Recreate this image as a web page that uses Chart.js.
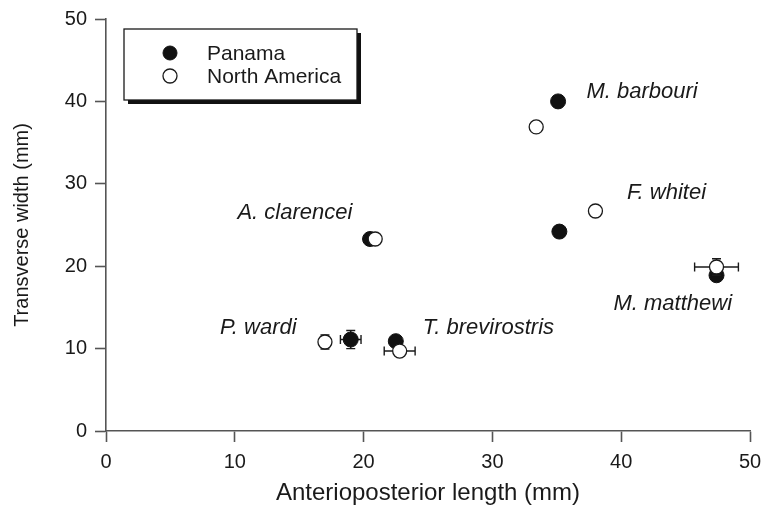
<!DOCTYPE html>
<html>
<head>
<meta charset="utf-8">
<script src="https://cdn.jsdelivr.net/npm/chart.js@4"></script>
<style>
  body { margin: 0; background: #fff; }
  #wrap { width: 764px; height: 506px; }
</style>
</head>
<body>
<div id="wrap"><canvas id="scatter" width="764" height="506"></canvas></div>
<script>
// species order is shared by every array below
const species = ["A. clarencei", "M. barbouri", "F. whitei", "M. matthewi", "P. wardi", "T. brevirostris"];

const panamaLength = [20.5, 35.1, 35.2, 47.4, 19.0, 22.5];
const panamaWidth = [23.3, 40.0, 24.2, 18.9, 11.1, 10.9];
const panamaLengthErr = [0, 0, 0, 0, 0.8, 0];
const panamaWidthErr = [0, 0, 0, 0, 1.1, 0];

const northLength = [20.9, 33.4, 38.0, 47.4, 17.0, 22.8];
const northWidth = [23.3, 36.9, 26.7, 19.9, 10.8, 9.7];
const northLengthErr = [0, 0, 0, 1.7, 0, 1.2];
const northWidthErr = [0, 0, 0, 1.0, 0.85, 0.3];

const axisTicks = [0, 10, 20, 30, 40, 50];

// where each species name sits (left edge, vertical middle), in axis units
const nameSpots = [
    [10.2, 26.5],
    [37.3, 41.1],
    [40.45, 28.9],
    [39.4, 15.4],
    [8.85, 12.5],
    [24.6, 12.5],
];

const FONT = "'Liberation Sans', Arial, Helvetica, sans-serif";
const INK = "#1a1a1a";

function points(xs, ys, xe, ye) {
    return xs.map((x, i) => ({ x: x, y: ys[i], xErr: xe[i], yErr: ye[i] }));
}

// error bars go under the markers of their own dataset
const errorBars = {
    id: "errorBars",
    beforeDatasetDraw(chart, args) {
        const { ctx, scales } = chart;
        const xs = scales.x, ys = scales.y;
        const cap = 4.5;
        ctx.save();
        ctx.strokeStyle = INK;
        ctx.lineWidth = 1.4;
        args.meta._dataset.data.forEach((p) => {
            const cx = xs.getPixelForValue(p.x);
            const cy = ys.getPixelForValue(p.y);
            ctx.beginPath();
            if (p.xErr) {
                const l = xs.getPixelForValue(p.x - p.xErr);
                const r = xs.getPixelForValue(p.x + p.xErr);
                ctx.moveTo(l, cy); ctx.lineTo(r, cy);
                ctx.moveTo(l, cy - cap); ctx.lineTo(l, cy + cap);
                ctx.moveTo(r, cy - cap); ctx.lineTo(r, cy + cap);
            }
            if (p.yErr) {
                const t = ys.getPixelForValue(p.y + p.yErr);
                const b = ys.getPixelForValue(p.y - p.yErr);
                ctx.moveTo(cx, t); ctx.lineTo(cx, b);
                ctx.moveTo(cx - cap, t); ctx.lineTo(cx + cap, t);
                ctx.moveTo(cx - cap, b); ctx.lineTo(cx + cap, b);
            }
            ctx.stroke();
        });
        ctx.restore();
    },
};

const speciesNames = {
    id: "speciesNames",
    afterDatasetsDraw(chart) {
        const { ctx, scales } = chart;
        ctx.save();
        ctx.font = "italic 22px " + FONT;
        ctx.fillStyle = INK;
        ctx.textAlign = "left";
        ctx.textBaseline = "middle";
        species.forEach((name, i) => {
            const [x, y] = nameSpots[i];
            ctx.fillText(name, scales.x.getPixelForValue(x), scales.y.getPixelForValue(y));
        });
        ctx.restore();
    },
};

// boxed legend with a drop shadow, inside the plot
const boxLegend = {
    id: "boxLegend",
    afterDraw(chart) {
        const { ctx } = chart;
        const box = { x: 124, y: 29, w: 233, h: 71 };
        ctx.save();
        ctx.fillStyle = "#111";
        ctx.fillRect(box.x + 4, box.y + 4, box.w, box.h);
        ctx.fillStyle = "#fff";
        ctx.fillRect(box.x, box.y, box.w, box.h);
        ctx.strokeStyle = INK;
        ctx.lineWidth = 1.3;
        ctx.strokeRect(box.x, box.y, box.w, box.h);

        ctx.font = "21px " + FONT;
        ctx.textBaseline = "middle";
        chart.data.datasets.slice().reverse().forEach((ds, i) => {
            const y = 53 + i * 23;
            ctx.beginPath();
            ctx.arc(170, y, 7, 0, Math.PI * 2);
            ctx.fillStyle = ds.backgroundColor;
            ctx.fill();
            ctx.lineWidth = ds.borderWidth;
            ctx.strokeStyle = ds.borderColor;
            ctx.stroke();
            ctx.fillStyle = INK;
            ctx.fillText(ds.label, 207, y + 1);
        });
        ctx.restore();
    },
};

function axis(title, extra) {
    return Object.assign({
        type: "linear",
        min: 0,
        max: 50,
        afterBuildTicks: (scale) => {
            scale.ticks = axisTicks.map((v) => ({ value: v }));
        },
        grid: {
            drawOnChartArea: false,
            drawTicks: true,
            tickLength: 11,
            tickWidth: 1.6,
            tickColor: "#555",
        },
        border: { display: true, color: "#555", width: 1.6 },
        ticks: {
            color: INK,
            padding: 8,
            font: { family: FONT, size: 20 },
        },
        title: {
            display: true,
            text: title,
            color: INK,
            font: { family: FONT, size: 20, lineHeight: 1 },
        },
    }, extra);
}

// fixed axis boxes so the plot area lands where the original has it
const xAxis = axis("Anterioposterior length (mm)", {
    afterFit: (scale) => {
        scale.height = 75;
        scale.paddingLeft = 0;
        scale.paddingRight = 0;
    },
});
xAxis.title.font.size = 24;
xAxis.title.padding = { top: 0, bottom: 1 };

const yAxis = axis("Transverse width (mm)", {
    afterFit: (scale) => {
        scale.width = 106;
        scale.paddingTop = 0;
        scale.paddingBottom = 0;
    },
});
yAxis.title.padding = { top: 12, bottom: 12 };

new Chart(document.getElementById("scatter"), {
    type: "scatter",
    data: {
        datasets: [
            {
                label: "North America",
                data: points(northLength, northWidth, northLengthErr, northWidthErr),
                backgroundColor: "#fff",
                borderColor: INK,
                borderWidth: 1.3,
                pointRadius: 7,
                order: 1,
            },
            {
                label: "Panama",
                data: points(panamaLength, panamaWidth, panamaLengthErr, panamaWidthErr),
                backgroundColor: "#111",
                borderColor: "#111",
                borderWidth: 1,
                pointRadius: 7.5,
                order: 2,
            },
        ],
    },
    options: {
        responsive: false,
        animation: false,
        layout: { padding: { top: 19, right: 14, left: 0, bottom: 0 } },
        plugins: {
            legend: { display: false },
            tooltip: { enabled: false },
        },
        scales: { x: xAxis, y: yAxis },
    },
    plugins: [errorBars, speciesNames, boxLegend],
});
</script>
</body>
</html>
